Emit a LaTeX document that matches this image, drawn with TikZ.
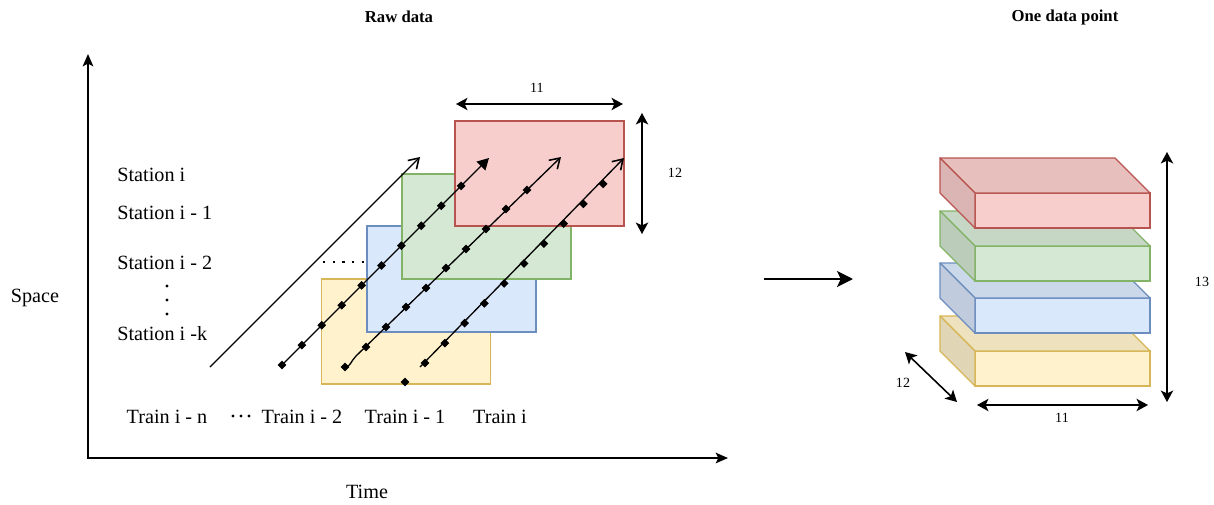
\documentclass[tikz,border=0pt]{standalone}
\usepackage{fontspec}
\setmainfont{Liberation Serif}
\usetikzlibrary{arrows.meta,shapes.geometric}
\definecolor{redF}{HTML}{F8CECC}\definecolor{redS}{HTML}{B85450}
\definecolor{grnF}{HTML}{D5E8D4}\definecolor{grnS}{HTML}{82B366}
\definecolor{bluF}{HTML}{DAE8FC}\definecolor{bluS}{HTML}{6C8EBF}
\definecolor{yelF}{HTML}{FFF2CC}\definecolor{yelS}{HTML}{D6B656}
\begin{document}
\begin{tikzpicture}[x=0.02cm,y=-0.02cm,
  lbl/.style={font=\fontsize{11.5}{13}\selectfont, inner sep=0pt},
  num/.style={font=\fontsize{8}{9}\selectfont, inner sep=0pt},
  ttl/.style={font=\bfseries\fontsize{9.5}{11}\selectfont, inner sep=0pt},
  axis/.style={line width=1.1pt, {Stealth[length=7pt,width=6pt,inset=1.5pt]}-{Stealth[length=7pt,width=6pt,inset=1.5pt]}},
  dim/.style={line width=0.9pt, {Stealth[length=6.5pt,width=7pt,inset=1.6pt]}-{Stealth[length=6.5pt,width=7pt,inset=1.6pt]}},
  mk/.style={diamond, fill=black, inner sep=0pt, minimum size=0.18cm},
  traj/.style={line width=0.75pt},
  openhead/.style={-{Straight Barb[length=5.5pt,width=7pt,line width=0.9pt]}},
  slab/.style={draw=#1S, fill=#1F, line width=0.7pt}
]
\useasboundingbox (0,0) rectangle (1214,504);

% titles
\node[ttl] (t1) at (399,17) {Raw data};
\node[ttl] (t2) at (1065,17) {One data point};

% axes
\coordinate (O) at (88,458);
\coordinate (ytip) at (88,54);
\coordinate (xtip) at (728,458);
\draw[axis] (ytip) -- (O) -- (xtip);
\node[lbl] (space) at (35,298) {Space};
\node[lbl] (time) at (367,492) {Time};

% station labels
\node[lbl, anchor=west] (s0) at (117,175) {Station i};
\node[lbl, anchor=west] (s1) at (117,213) {Station i - 1};
\node[lbl, anchor=west] (s2) at (117,263) {Station i - 2};
\node[lbl, anchor=west] (sk) at (117,334) {Station i -k};
\foreach \yy in {286,300,314} \fill (167,\yy) circle (1.7);

% train labels
\node[lbl] (tn) at (167,417) {Train i - n};
\foreach \xx in {233,241,249} \fill (\xx,416) circle (1.7);
\node[lbl] (t2l) at (302,417) {Train i - 2};
\node[lbl] (t1l) at (405,417) {Train i - 1};
\node[lbl] (t0l) at (500,417) {Train i};

% slabs
\draw[slab=yel] (321.5,279) rectangle (490.5,384);
\draw[slab=blu] (367,226) rectangle (536,332);
\draw[slab=grn] (402,174) rectangle (571,279);
\draw[slab=red] (455,121) rectangle (624,226);

% dotted line
\coordinate (d0) at (323,262);
\coordinate (d1) at (366,262);
\draw[line width=1.3pt, dash pattern=on 1.3pt off 4.2pt] (d0) -- (d1);

% plain trajectory
\coordinate (p0) at (210,367);
\coordinate (p1) at (420,157);
\draw[traj, openhead] (p0) -- (p1);

% trajectory 1
\foreach \k in {0,...,9} \node[mk] (a\k) at ({282+19.9*\k},{365-19.9*\k}) {};
\coordinate (a-end) at (489,158);
\draw[traj, -{Triangle[length=6.5pt,width=7pt]}] (a0.center) -- (a-end);

% trajectory 2
\foreach \px/\py [count=\i from 0] in {345/367,366/347,386/327,406/307,426/288,446/268,466/249,486/229,506/209,527/190}
  \node[mk] (b\i) at (\px,\py) {};
\coordinate (b-end) at (561,157);
\draw[traj, openhead] (b0.center) .. controls (350,367.5) and (351,361) .. (356,356) -- (b-end);

% trajectory 3
\foreach \k in {0,...,9} \node[mk] (c\k) at ({425+19.8*\k},{363-19.9*\k}) {};
\coordinate (c-start) at (420,367);
\coordinate (c-end) at (624,158);
\draw[traj, openhead] (c-start) -- (c-end);
\node[mk] (lone) at (405,382) {};

% dimensions left
\coordinate (w0) at (456,104);
\coordinate (w1) at (623,104);
\draw[dim] (w0) -- (w1);
\node[num] (w) at (537,88) {11};
\coordinate (h0) at (642,113);
\coordinate (h1) at (642,234);
\draw[dim] (h0) -- (h1);
\node[num] (h) at (675,173) {12};

% big arrow
\coordinate (ra0) at (764,279);
\coordinate (ra1) at (853,279);
\draw[line width=1.6pt, -{Stealth[length=9pt,width=9pt,inset=2pt]}] (ra0) -- (ra1);

% cubes
\foreach \col/\yy in {yel/351,blu/298,grn/246,red/193}{
  \filldraw[draw=\col S, fill=\col F, line width=0.7pt] (975,\yy) rectangle (1150,\yy+35);
  \filldraw[draw=\col S, fill=\col F!93!black, line width=0.7pt, line join=round]
    (940,\yy-35) -- (1115,\yy-35) -- (1150,\yy) -- (975,\yy) -- cycle;
  \filldraw[draw=\col S, fill=\col F!88!black, line width=0.7pt, line join=round]
    (940,\yy-35) -- (975,\yy) -- (975,\yy+35) -- (940,\yy) -- cycle;
}

% dimensions right
\coordinate (z0) at (1167,152);
\coordinate (z1) at (1167,402);
\draw[dim] (z0) -- (z1);
\node[num] (zl) at (1202,282) {13};
\coordinate (x0) at (977,405);
\coordinate (x1) at (1148,405);
\draw[dim] (x0) -- (x1);
\node[num] (xl) at (1062,418) {11};
\coordinate (q0) at (905,352);
\coordinate (q1) at (957,402);
\draw[dim] (q0) -- (q1);
\node[num] (ql) at (903,383) {12};
\end{tikzpicture}
\end{document}
